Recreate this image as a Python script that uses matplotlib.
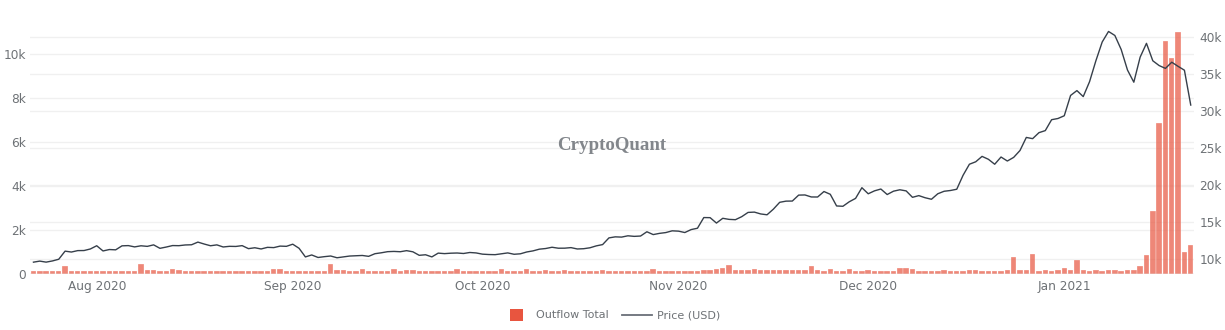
import numpy as np
import pandas as pd
import matplotlib
matplotlib.use("Agg")
import matplotlib.pyplot as plt
import matplotlib.dates as mdates
from matplotlib.lines import Line2D
from matplotlib.patches import Rectangle

# Daily series, 2020-07-22 .. 2021-01-21
start_date = "2020-07-22"
end_date = "2021-01-21"

outflow_total = [
    # Jul 22 - Jul 31
    150, 140, 150, 145, 155, 380, 150, 160, 155, 150,
    # Aug
    165, 140, 150, 145, 140, 155, 150, 480, 180, 175,
    150, 160, 240, 180, 160, 150, 145, 150, 140, 155,
    150, 145, 150, 160, 150, 140, 155, 150, 230, 230,
    160,
    # Sep
    150, 155, 160, 150, 170, 165, 485, 200, 200, 160,
    150, 240, 170, 165, 160, 150, 240, 160, 200, 200,
    150, 160, 140, 150, 150, 160, 230, 150, 145, 150,
    # Oct
    160, 170, 165, 260, 160, 150, 165, 230, 170, 160,
    200, 150, 165, 200, 160, 170, 160, 150, 165, 200,
    170, 150, 140, 150, 145, 150, 140, 240, 150, 160,
    165,
    # Nov
    160, 150, 160, 170, 210, 210, 220, 300, 410, 200,
    190, 200, 230, 190, 185, 190, 180, 190, 185, 190,
    195, 380, 180, 160, 240, 160, 170, 240, 160, 170,
    # Dec
    180, 165, 170, 160, 165, 300, 290, 240, 170, 160,
    165, 170, 210, 160, 170, 165, 180, 175, 170, 160,
    170, 165, 175, 800, 180, 175, 910, 170, 175, 165,
    180,
    # Jan 1 - Jan 21
    270, 180, 650, 180, 170, 175, 165, 200, 175, 170,
    180, 175, 380, 900, 2870, 6880, 10620, 9810, 11010, 1030,
    1340,
]

price_usd = [
    # Jul 22 - Jul 31
    9536, 9677, 9539, 9700, 9931, 11029, 10906, 11100, 11111, 11323,
    # Aug
    11759, 11053, 11246, 11205, 11747, 11779, 11602, 11754, 11675, 11878,
    11410, 11584, 11785, 11768, 11865, 11892, 12254, 11991, 11758, 11878,
    11592, 11681, 11664, 11774, 11366, 11488, 11323, 11542, 11507, 11711,
    11680,
    # Sep
    11970, 11414, 10245, 10511, 10169, 10280, 10369, 10131, 10242, 10364,
    10400, 10442, 10324, 10681, 10804, 10956, 10990, 10948, 11094, 10938,
    10462, 10538, 10246, 10760, 10692, 10750, 10775, 10709, 10845, 10785,
    # Oct
    10620, 10570, 10550, 10670, 10788, 10604, 10668, 10915, 11065, 11296,
    11384, 11555, 11425, 11430, 11505, 11322, 11358, 11484, 11742, 11917,
    12823, 12965, 12931, 13108, 13031, 13075, 13654, 13271, 13437, 13546,
    13781,
    # Nov
    13737, 13550, 13950, 14133, 15579, 15565, 14833, 15479, 15332, 15290,
    15701, 16276, 16317, 16068, 15955, 16716, 17645, 17804, 17817, 18621,
    18642, 18370, 18364, 19107, 18732, 17150, 17108, 17717, 18177, 19625,
    # Dec
    18802, 19201, 19445, 18699, 19154, 19345, 19191, 18321, 18553, 18264,
    18058, 18803, 19142, 19246, 19417, 21310, 22805, 23137, 23869, 23477,
    22803, 23783, 23241, 23735, 24665, 26437, 26272, 27084, 27362, 28840,
    29001,
    # Jan 1 - Jan 21
    29374, 32127, 32782, 31971, 33992, 36824, 39371, 40797, 40254, 38356,
    35566, 33922, 37316, 39187, 36825, 36178, 35791, 36630, 36069, 35547,
    30825,
]

left_ticks = [0, 2000, 4000, 6000, 8000, 10000]
left_tick_labels = ["0", "2k", "4k", "6k", "8k", "10k"]
right_ticks = [10000, 15000, 20000, 25000, 30000, 35000, 40000]
right_tick_labels = ["10k", "15k", "20k", "25k", "30k", "35k", "40k"]

dates = pd.date_range(start_date, end_date, freq="D")
assert len(dates) == len(outflow_total) == len(price_usd)

BAR_COLOR = "#e8553f"
LINE_COLOR = "#363f4a"
GRID_COLOR = "#f0f0f0"
TEXT_COLOR = "#6e7276"

plt.rcParams["font.family"] = ["DejaVu Sans"]

W, H = 1225, 330
fig = plt.figure(figsize=(W / 100, H / 100), dpi=100)
x0, x1 = 30.3, 1193.9
y_top, y_bot = 20.0, 274.3
ax = fig.add_axes([x0 / W, (H - y_bot) / H, (x1 - x0) / W, (y_bot - y_top) / H])
ax2 = ax.twinx()

L_MIN, L_MAX = 0, 11560
R_MIN, R_MAX = 7890, 42350
ax.set_ylim(L_MIN, L_MAX)
ax2.set_ylim(R_MIN, R_MAX)

# Grid lines of both value axes, all kept behind the bars
for t in left_ticks[1:]:
    ax.axhline(t, color=GRID_COLOR, lw=1.0, zorder=0)
for t in right_ticks:
    t_left = L_MIN + (t - R_MIN) / (R_MAX - R_MIN) * (L_MAX - L_MIN)
    ax.axhline(t_left, color=GRID_COLOR, lw=1.0, zorder=0)
ax.axhline(0, color="#d6d6d6", lw=1.0, zorder=3)

ax.bar(dates, outflow_total, width=0.86, color=BAR_COLOR, alpha=0.7,
       edgecolor="white", linewidth=0.3, zorder=2)
ax2.plot(dates, price_usd, color=LINE_COLOR, lw=1.0, zorder=4)

ax.set_xlim(dates[0] - pd.Timedelta(hours=12), dates[-1] + pd.Timedelta(hours=12))
ax.xaxis.set_major_locator(mdates.MonthLocator())
ax.xaxis.set_major_formatter(mdates.DateFormatter("%b %Y"))

ax.set_yticks(left_ticks)
ax.set_yticklabels(left_tick_labels)
ax2.set_yticks(right_ticks)
ax2.set_yticklabels(right_tick_labels)

for a in (ax, ax2):
    for s in a.spines.values():
        s.set_visible(False)
    a.tick_params(length=0, labelsize=8.7, colors=TEXT_COLOR)
ax.tick_params(axis="x", pad=4)
ax.tick_params(axis="y", pad=3)
ax2.tick_params(axis="y", pad=4)

ax.set_zorder(ax2.get_zorder() - 1)
ax.patch.set_visible(True)
ax2.patch.set_visible(False)

# Watermark
fig.text(612 / W, 1 - 146 / H, "CryptoQuant", ha="center", va="center",
         family="Liberation Serif", weight="bold", fontsize=13.6,
         color="#82868b")

# Legend below the plot
leg_y = 1 - 315 / H
fig.patches.append(Rectangle((510 / W, 1 - 321 / H), 12.5 / W, 12.5 / H,
                             transform=fig.transFigure, facecolor=BAR_COLOR,
                             edgecolor="none"))
fig.text(536.5 / W, leg_y, "Outflow Total", ha="left", va="center",
         fontsize=8.0, color=TEXT_COLOR)
fig.lines.append(Line2D([622 / W, 652 / W], [leg_y, leg_y],
                        transform=fig.transFigure, color="#6a7078", lw=1.3))
fig.text(657 / W, leg_y, "Price (USD)", ha="left", va="center",
         fontsize=8.0, color=TEXT_COLOR)

fig.savefig("out.png", dpi=100, facecolor="white")
